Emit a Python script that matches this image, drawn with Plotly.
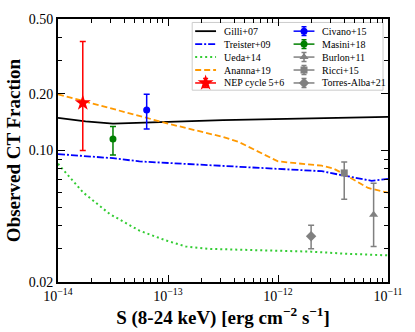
import math
import plotly.graph_objects as go

# ---- model curves: flux S(8-24 keV) [erg cm^-2 s^-1] vs observed CT fraction
gilli_x = [1.0e-14, 1.78e-14, 3.16e-14, 5.62e-14, 1.0e-13, 3.16e-13, 1.0e-12, 3.16e-12, 1.0e-11]
gilli_y = [0.149, 0.143, 0.139, 0.140, 0.142, 0.145, 0.147, 0.149, 0.151]

treister_x = [1.0e-14, 3.16e-14, 5.5e-14, 2.5e-13, 7.9e-13, 2.5e-12, 4.0e-12, 7.1e-12, 1.0e-11]
treister_y = [0.0957, 0.091, 0.0875, 0.0834, 0.0807, 0.0776, 0.0735, 0.069, 0.0706]

ueda_x = [1.0e-14, 1.7e-14, 2.95e-14, 5.5e-14, 9.5e-14, 1.45e-13, 2.35e-13,
          5.0e-13, 1.0e-12, 2.0e-12, 4.0e-12, 1.0e-11]
ueda_y = [0.085, 0.0597, 0.046, 0.0375, 0.0333, 0.0309, 0.0300,
          0.0296, 0.0293, 0.0290, 0.0283, 0.0277]

ananna_x = [1.0e-14, 3.16e-14, 1.0e-13, 3.16e-13, 4.4e-13, 1.0e-12, 2.5e-12,
            3.16e-12, 4.0e-12, 6.6e-12, 1.0e-11]
ananna_y = [0.199, 0.167, 0.139, 0.118, 0.111, 0.0875, 0.083,
            0.0804, 0.0748, 0.0632, 0.0597]

# ---- measurements (value with upper / lower error bound)
point_names = ["NEP cycle 5+6", "Civano+15", "Masini+18", "Burlon+11", "Ricci+15", "Torres-Alba+21"]
point_x = [1.68e-14, 6.4e-14, 3.16e-14, 7.4e-12, 4.0e-12, 2.0e-12]
point_y = [0.179, 0.164, 0.115, 0.0456, 0.076, 0.035]
point_hi = [0.38, 0.199, 0.134, 0.0669, 0.087, 0.040]
point_lo = [0.10, 0.130, 0.0945, 0.0309, 0.055, 0.030]

# ---- axis ticks
x_tickvals = [1e-14, 1e-13, 1e-12, 1e-11]
x_ticktext = ["10<sup>\u221214</sup>", "10<sup>\u221213</sup>", "10<sup>\u221212</sup>", "10<sup>\u221211</sup>"]
y_tickvals = [0.02, 0.10, 0.20, 0.50]
y_ticktext = ["0.02", "0.10", "0.20", "0.50"]

SERIF = "Liberation Serif"
GREY = "#808080"

curve_style = {
    "Gilli+07": dict(color="black", width=1.8, dash="solid"),
    "Treister+09": dict(color="#0000ff", width=1.8, dash="7px,2px,2px,2px"),
    "Ueda+14": dict(color="#33cc33", width=2, dash="2px,3px"),
    "Ananna+19": dict(color="#ff9900", width=1.8, dash="6px,3px"),
}
point_style = {
    "NEP cycle 5+6": dict(color="#ff0000", symbol="star", size=12),
    "Civano+15": dict(color="#0000ff", symbol="circle", size=7),
    "Masini+18": dict(color="#008000", symbol="circle", size=7),
    "Burlon+11": dict(color=GREY, symbol="triangle-up", size=8),
    "Ricci+15": dict(color=GREY, symbol="square", size=7),
    "Torres-Alba+21": dict(color=GREY, symbol="diamond", size=8),
}

fig = go.Figure()

curves = [("Gilli+07", gilli_x, gilli_y), ("Treister+09", treister_x, treister_y),
          ("Ueda+14", ueda_x, ueda_y), ("Ananna+19", ananna_x, ananna_y)]
for name, xs, ys in curves:
    fig.add_trace(go.Scatter(x=xs, y=ys, mode="lines", name=name,
                             line=curve_style[name], hoverinfo="skip"))

for name, x, y, hi, lo in zip(point_names, point_x, point_y, point_hi, point_lo):
    st = point_style[name]
    fig.add_trace(go.Scatter(
        x=[x], y=[y], mode="markers", name=name,
        marker=dict(color=st["color"], symbol=st["symbol"], size=st["size"], line=dict(width=0)),
        error_y=dict(type="data", symmetric=False, array=[hi - y], arrayminus=[y - lo],
                     color=st["color"], thickness=1.5, width=3),
    ))

# ---- hand-built two column legend on a hidden pixel-like overlay axis
leg_col1 = ["Gilli+07", "Treister+09", "Ueda+14", "Ananna+19", "NEP cycle 5+6"]
leg_col2 = ["Civano+15", "Masini+18", "Burlon+11", "Ricci+15", "Torres-Alba+21"]
row0, row_gap = 28.3, 13.1
annotations = []
for col, names in enumerate([leg_col1, leg_col2]):
    x0 = 196 if col == 0 else 295
    for i, name in enumerate(names):
        yy = row0 + row_gap * i
        if name in curve_style:
            lst = curve_style[name]
        else:
            lst = dict(color=point_style[name]["color"], width=1.5, dash="solid")
        fig.add_trace(go.Scatter(x=[x0, x0 + 21], y=[yy, yy], mode="lines", line=lst,
                                 xaxis="x2", yaxis="y2", showlegend=False, hoverinfo="skip"))
        if name in point_style:
            st = point_style[name]
            fig.add_trace(go.Scatter(
                x=[x0 + 10.5], y=[yy], mode="markers", xaxis="x2", yaxis="y2",
                showlegend=False, hoverinfo="skip",
                marker=dict(color=st["color"], symbol=st["symbol"], size=st["size"], line=dict(width=0)),
                error_y=dict(type="data", array=[4.5], color=st["color"], thickness=1.5, width=2.5),
            ))
        annotations.append(dict(x=x0 + 27, y=yy, xref="x2", yref="y2", text=name,
                                showarrow=False, xanchor="left", yanchor="middle",
                                font=dict(family=SERIF, size=10, color="black")))

axis_common = dict(
    type="log", showgrid=False, zeroline=False,
    showline=True, linecolor="black", linewidth=2, mirror="ticks",
    ticks="inside", ticklen=7, tickwidth=1.2, tickcolor="black",
    tickfont=dict(family=SERIF, size=14, color="black"),
)

fig.update_layout(
    width=415, height=332,
    margin=dict(l=58, r=25, t=16, b=50),
    plot_bgcolor="white", paper_bgcolor="white",
    showlegend=False,
    xaxis=dict(
        axis_common, range=[-14, -11],
        tickvals=x_tickvals, ticktext=x_ticktext,
        minor=dict(ticks="inside", ticklen=4, tickwidth=1, tickcolor="black",
                   tickvals=[m * 10.0 ** e for e in (-14, -13, -12) for m in range(2, 10)]),
        title=dict(text="S (8-24 keV) [erg cm<sup>\u22122</sup> s<sup>\u22121</sup>]",
                   font=dict(family=SERIF, size=19, color="black", weight="bold"), standoff=3),
    ),
    yaxis=dict(
        axis_common, range=[math.log10(0.02), math.log10(0.5)],
        tickvals=y_tickvals, ticktext=y_ticktext,
        minor=dict(ticks="inside", ticklen=4, tickwidth=1, tickcolor="black",
                   tickvals=[0.03, 0.04, 0.05, 0.06, 0.07, 0.08, 0.09, 0.3, 0.4]),
        title=dict(text="Observed CT Fraction",
                   font=dict(family=SERIF, size=19, color="black", weight="bold"), standoff=3),
    ),
    xaxis2=dict(overlaying="x", anchor="y2", range=[58, 390], visible=False, fixedrange=True),
    yaxis2=dict(overlaying="y", anchor="x2", range=[282, 16], visible=False, fixedrange=True),
    shapes=[dict(type="rect", xref="x2", yref="y2", x0=193, x1=385, y0=19.5, y1=88,
                 line=dict(color="#cccccc", width=1), fillcolor="rgba(255,255,255,0.8)",
                 layer="below")],
    annotations=annotations,
)

# the page body has a default 8px margin; drop it so the figure fills the window
fig.write_html("out.html", config={"displayModeBar": False},
               post_script="document.body.style.margin='0';")
